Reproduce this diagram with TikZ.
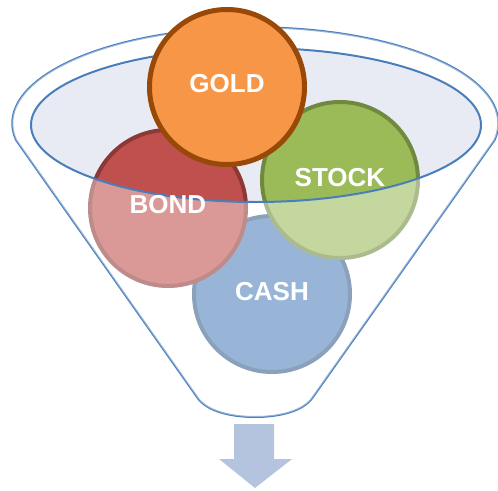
\documentclass[tikz,border=0pt]{standalone}
\usepackage{fontspec}
\setmainfont{Liberation Sans}
\definecolor{fline}{HTML}{4A7EBB}
\definecolor{surf}{HTML}{E8EBF3}
\definecolor{goldf}{HTML}{F79646}
\definecolor{goldd}{HTML}{984807}
\definecolor{bondf}{HTML}{C0504D}
\definecolor{bondd}{HTML}{8C3836}
\definecolor{stockf}{HTML}{9BBB59}
\definecolor{stockd}{HTML}{71893F}
\definecolor{cashf}{HTML}{4F81BD}
\definecolor{cashd}{HTML}{385D8A}
\definecolor{arrowc}{HTML}{B4C4DF}
\tikzset{
  ball/.style={circle, inner sep=0pt, minimum size=156pt, line width=4pt},
  lbl/.style={text=white, font=\fontsize{26}{28}\selectfont\bfseries, inner sep=0pt},
  fun/.style={draw=fline, line width=2pt}
}
\begin{document}
\begin{tikzpicture}[x=1pt,y=-1pt]
\useasboundingbox (0,0) rectangle (498,490);
% funnel outline
\def\funnelpath{(16,140) arc[start angle=170, end angle=370, x radius=243, y radius=96] -- (313,397) .. controls (304,411) and (280,417) .. (255,417) .. controls (230,417) and (206,411) .. (197,397) -- cycle}
\draw[fun, line join=round] \funnelpath;
% surface
\fill[surf] (256,125) ellipse [x radius=225, y radius=77];
% balls behind
\node[ball, fill=cashf, draw=cashd] (cash) at (272,294) {};
\node[ball, fill=bondf, draw=bondd] (bond) at (168,208) {};
\node[ball, fill=stockf, draw=stockd] (stock) at (340,180) {};
% translucent front of funnel
\fill[white, opacity=0.42, even odd rule] \funnelpath (256,125) ellipse [x radius=225, y radius=77];
\draw[fun] (256,125) ellipse [x radius=225, y radius=77];
% gold on top
\node[ball, fill=goldf, draw=goldd, line width=5pt, minimum size=155pt] (gold) at (227,87) {};
% labels
\node[lbl] (tgold) at ([yshift=3.5pt]gold.center) {GOLD};
\node[lbl] (tbond) at ([yshift=3pt]bond.center) {BOND};
\node[lbl] (tstock) at ([yshift=2pt]stock.center) {STOCK};
\node[lbl] (tcash) at ([yshift=2pt]cash.center) {CASH};
% arrow
\fill[arrowc] (234,424) -- (274,424) -- (274,459) -- (292,459) -- (255,488) -- (219,459) -- (234,459) -- cycle;
\end{tikzpicture}
\end{document}
